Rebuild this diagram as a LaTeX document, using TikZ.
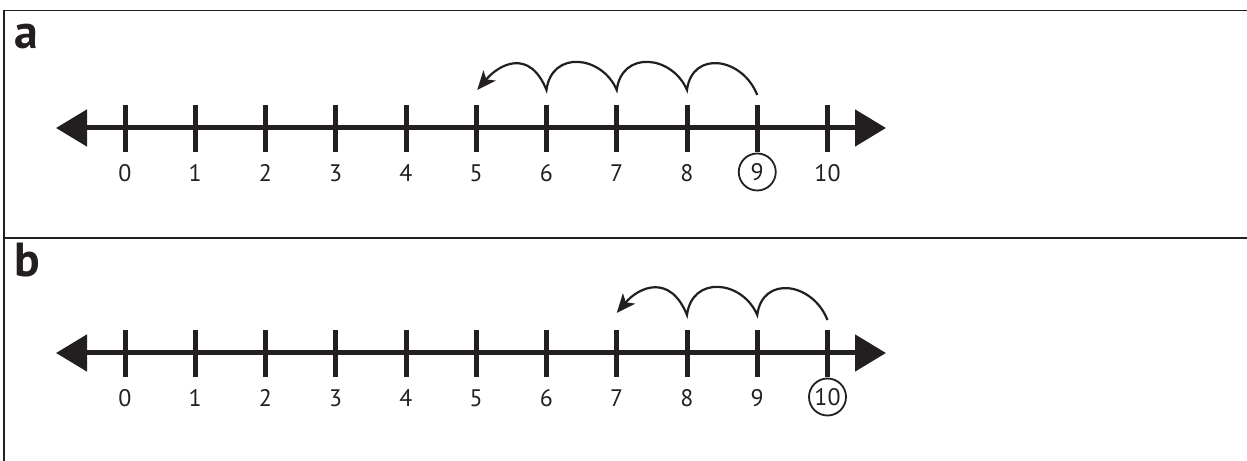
\documentclass[tikz,border=0pt]{standalone}
\usepackage{fontspec}
\setmainfont{PT Sans}
\usetikzlibrary{arrows.meta,calc}
\definecolor{ink}{HTML}{231F20}
\tikzset{
  frame/.style={draw=ink, line width=1.4bp},
  axisline/.style={draw=ink, line width=5bp, {Triangle[length=31bp,width=36bp]}-{Triangle[length=31bp,width=36bp]}},
  tickmark/.style={draw=ink, line width=5bp},
  numlabel/.style={text=ink, font=\fontsize{24}{28}\selectfont, inner sep=0pt},
  ringed/.style={draw=ink, line width=1.8bp, circle, minimum size=37bp},
  panellabel/.style={text=ink, font=\fontsize{48}{48}\selectfont\bfseries, inner sep=0pt, anchor=base west},
  jump/.style={draw=ink, line width=2.2bp, -{Stealth[length=19bp,width=16bp,inset=5bp]}}
}
\begin{document}
\begin{tikzpicture}[x=1bp,y=-1bp]
\useasboundingbox (0,0) rectangle (1247,461);
% frame
\coordinate (tl) at (4,10.5);
\coordinate (tr) at (1247,10.5);
\coordinate (ml) at (4,238);
\coordinate (mr) at (1247,238);
\coordinate (bl) at (4,461);
\draw[frame] (tr) -- (tl) -- (bl);
\draw[frame] (ml) -- (mr);
% panel labels
\node[panellabel] (la) at (14,49) {a};
\node[panellabel] (lb) at (14,277) {b};
% number lines
\foreach \p/\dy in {a/0,b/225}{
  \coordinate (\p L) at (56,128+\dy);
  \coordinate (\p R) at (886,128+\dy);
  \draw[axisline] (\p L) -- (\p R);
  \foreach \i in {0,...,10}{
    \coordinate (\p t\i) at ({125+70.25*\i},105+\dy);
    \coordinate (\p b\i) at ({125+70.25*\i},152+\dy);
    \coordinate (\p j\i) at ({125+70.25*\i},90+\dy);
    \draw[tickmark] (\p t\i) -- (\p b\i);
  }
}
% labels panel a
\foreach \i in {0,...,8,10}{
  \node[numlabel] (na\i) at ({125+70.25*\i},173) {\i};
}
\node[numlabel,ringed] (na9) at ({125+70.25*9},172) {9};
% labels panel b
\foreach \i in {0,...,9}{
  \node[numlabel] (nb\i) at ({125+70.25*\i},398) {\i};
}
\node[numlabel,ringed] (nb10) at ({125+70.25*10},397) {10};
% jumps panel a : 9 -> 5
\coordinate (sa) at ($(at9)+(0,-10)$);
\coordinate (ea) at ($(aj5)+(1,0)$);
\draw[jump] (sa) .. controls +(-15,-38) and +(5,-40) .. (aj8)
  .. controls +(-15,-35) and +(5,-40) .. (aj7)
  .. controls +(-15,-35) and +(5,-40) .. (aj6)
  .. controls +(-17,-42) and +(22,-26) .. (ea);
% jumps panel b : 10 -> 7
\coordinate (sb) at ($(bt10)+(0,-10)$);
\coordinate (eb) at ($(bj7)+(0,-2)$);
\draw[jump] (sb) .. controls +(-15,-38) and +(5,-40) .. (bj9)
  .. controls +(-15,-35) and +(5,-40) .. (bj8)
  .. controls +(-17,-42) and +(22,-26) .. (eb);
\end{tikzpicture}
\end{document}
